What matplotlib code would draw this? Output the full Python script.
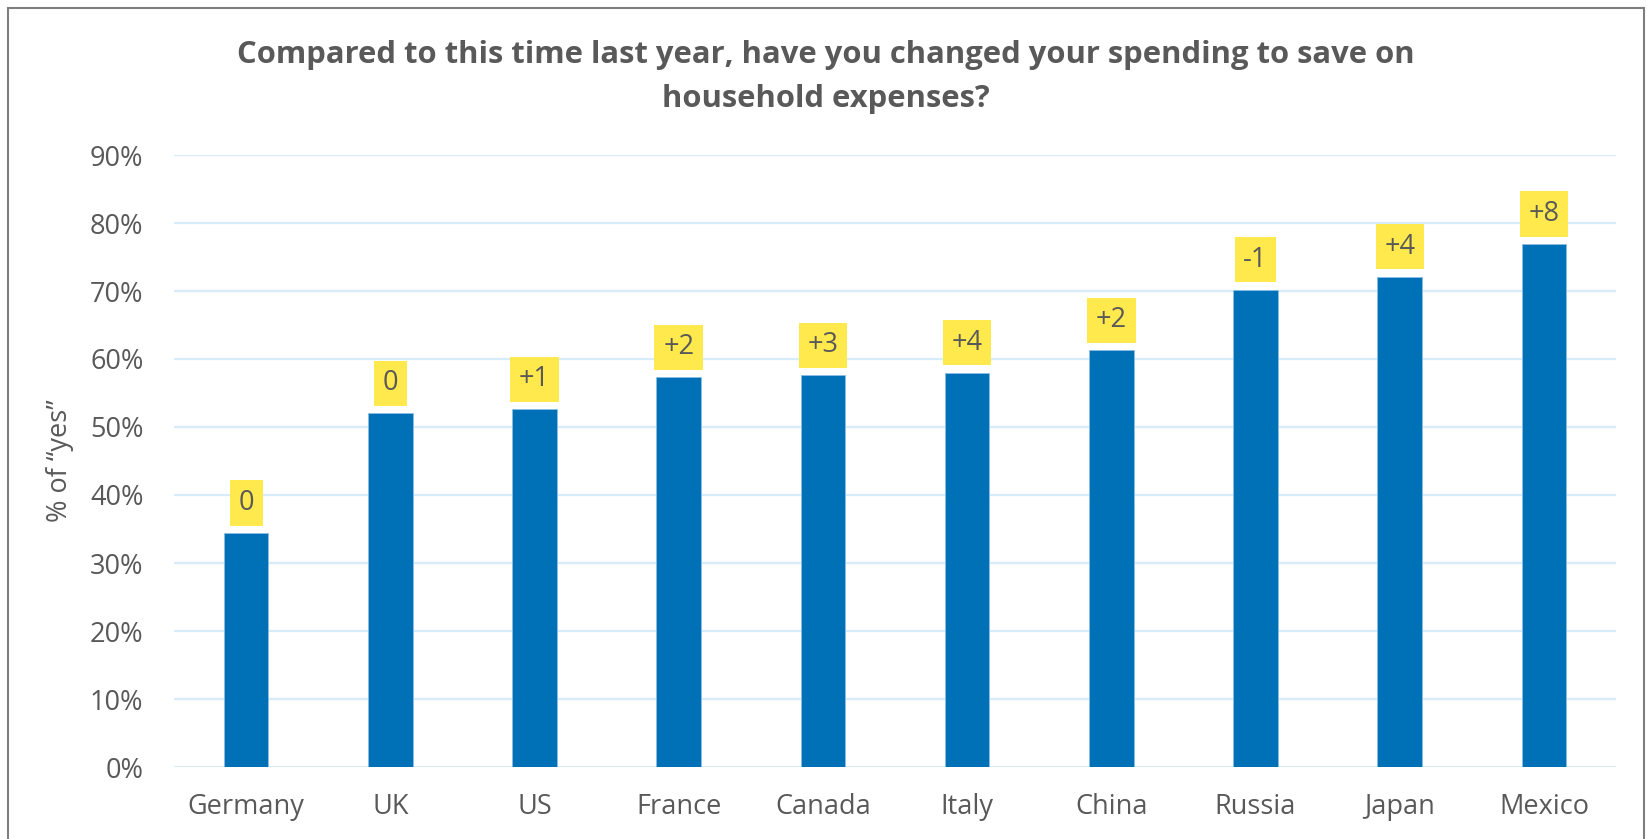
import matplotlib
matplotlib.use("Agg")
import matplotlib.pyplot as plt
from matplotlib.patches import Rectangle

countries = ["Germany", "UK", "US", "France", "Canada", "Italy", "China", "Russia", "Japan", "Mexico"]
yes_pct = [34.4, 52.0, 52.6, 57.3, 57.6, 58.0, 61.3, 70.2, 72.1, 76.9]
changes = ["0", "0", "+1", "+2", "+3", "+4", "+2", "-1", "+4", "+8"]
yticks = [0, 10, 20, 30, 40, 50, 60, 70, 80, 90]
ytick_labels = [f"{v}%" for v in yticks]
title = "Compared to this time last year, have you changed your spending to save on\nhousehold expenses?"
ylabel = "% of \u201cyes\u201d"

TXT = "#595959"
BAR = "#0071B6"
YEL = "#FFE94C"
GRID = "#D6ECFA"

plt.rcParams['font.family'] = ['Open Sans', 'DejaVu Sans']

W, H = 1647, 839
fig = plt.figure(figsize=(W / 100, H / 100), dpi=100)
ax = fig.add_axes([174 / W, 1 - 767 / H, (1616 - 174) / W, (767 - 155) / H])

x = list(range(len(countries)))
ax.bar(x, yes_pct, width=0.31, color=BAR, edgecolor="#8DBDE3", linewidth=0.6, zorder=3)

ax.set_xlim(-0.5, len(countries) - 0.5)
ax.set_ylim(0, 90)
ax.set_yticks(yticks)
ax.set_yticklabels(ytick_labels)
ax.set_xticks(x)
ax.set_xticklabels(countries)
ax.tick_params(axis='both', length=0, labelsize=19.5, colors=TXT)
ax.tick_params(axis='y', pad=22)
ax.tick_params(axis='x', pad=19)
ax.grid(axis='y', color=GRID, linewidth=1.6, zorder=0)
for s in ax.spines.values():
    s.set_visible(False)

ax.set_ylabel(ylabel, fontsize=19.5, color=TXT)
ax.yaxis.set_label_coords((74 - 174) / (1616 - 174), 0.5)

for xi, v, c in zip(x, yes_pct, changes):
    ax.annotate(c, xy=(xi, v), xytext=(0, 11.5), textcoords='offset points',
                ha='center', va='bottom', fontsize=19.5, color=TXT,
                bbox=dict(boxstyle='square,pad=0.32', fc=YEL, ec='none'), zorder=5)

fig.text(826 / W, 1 - 77 / H, title, ha='center', va='center', fontsize=22.3,
         fontweight='bold', color=TXT, linespacing=1.6)

fig.patches.append(Rectangle((8 / W, -0.05), (1644 - 8) / W, 1 - 8 / H + 0.05,
                             transform=fig.transFigure, fill=False, ec="#7F7F7F", lw=1.5))

fig.savefig("out.png", dpi=100)
